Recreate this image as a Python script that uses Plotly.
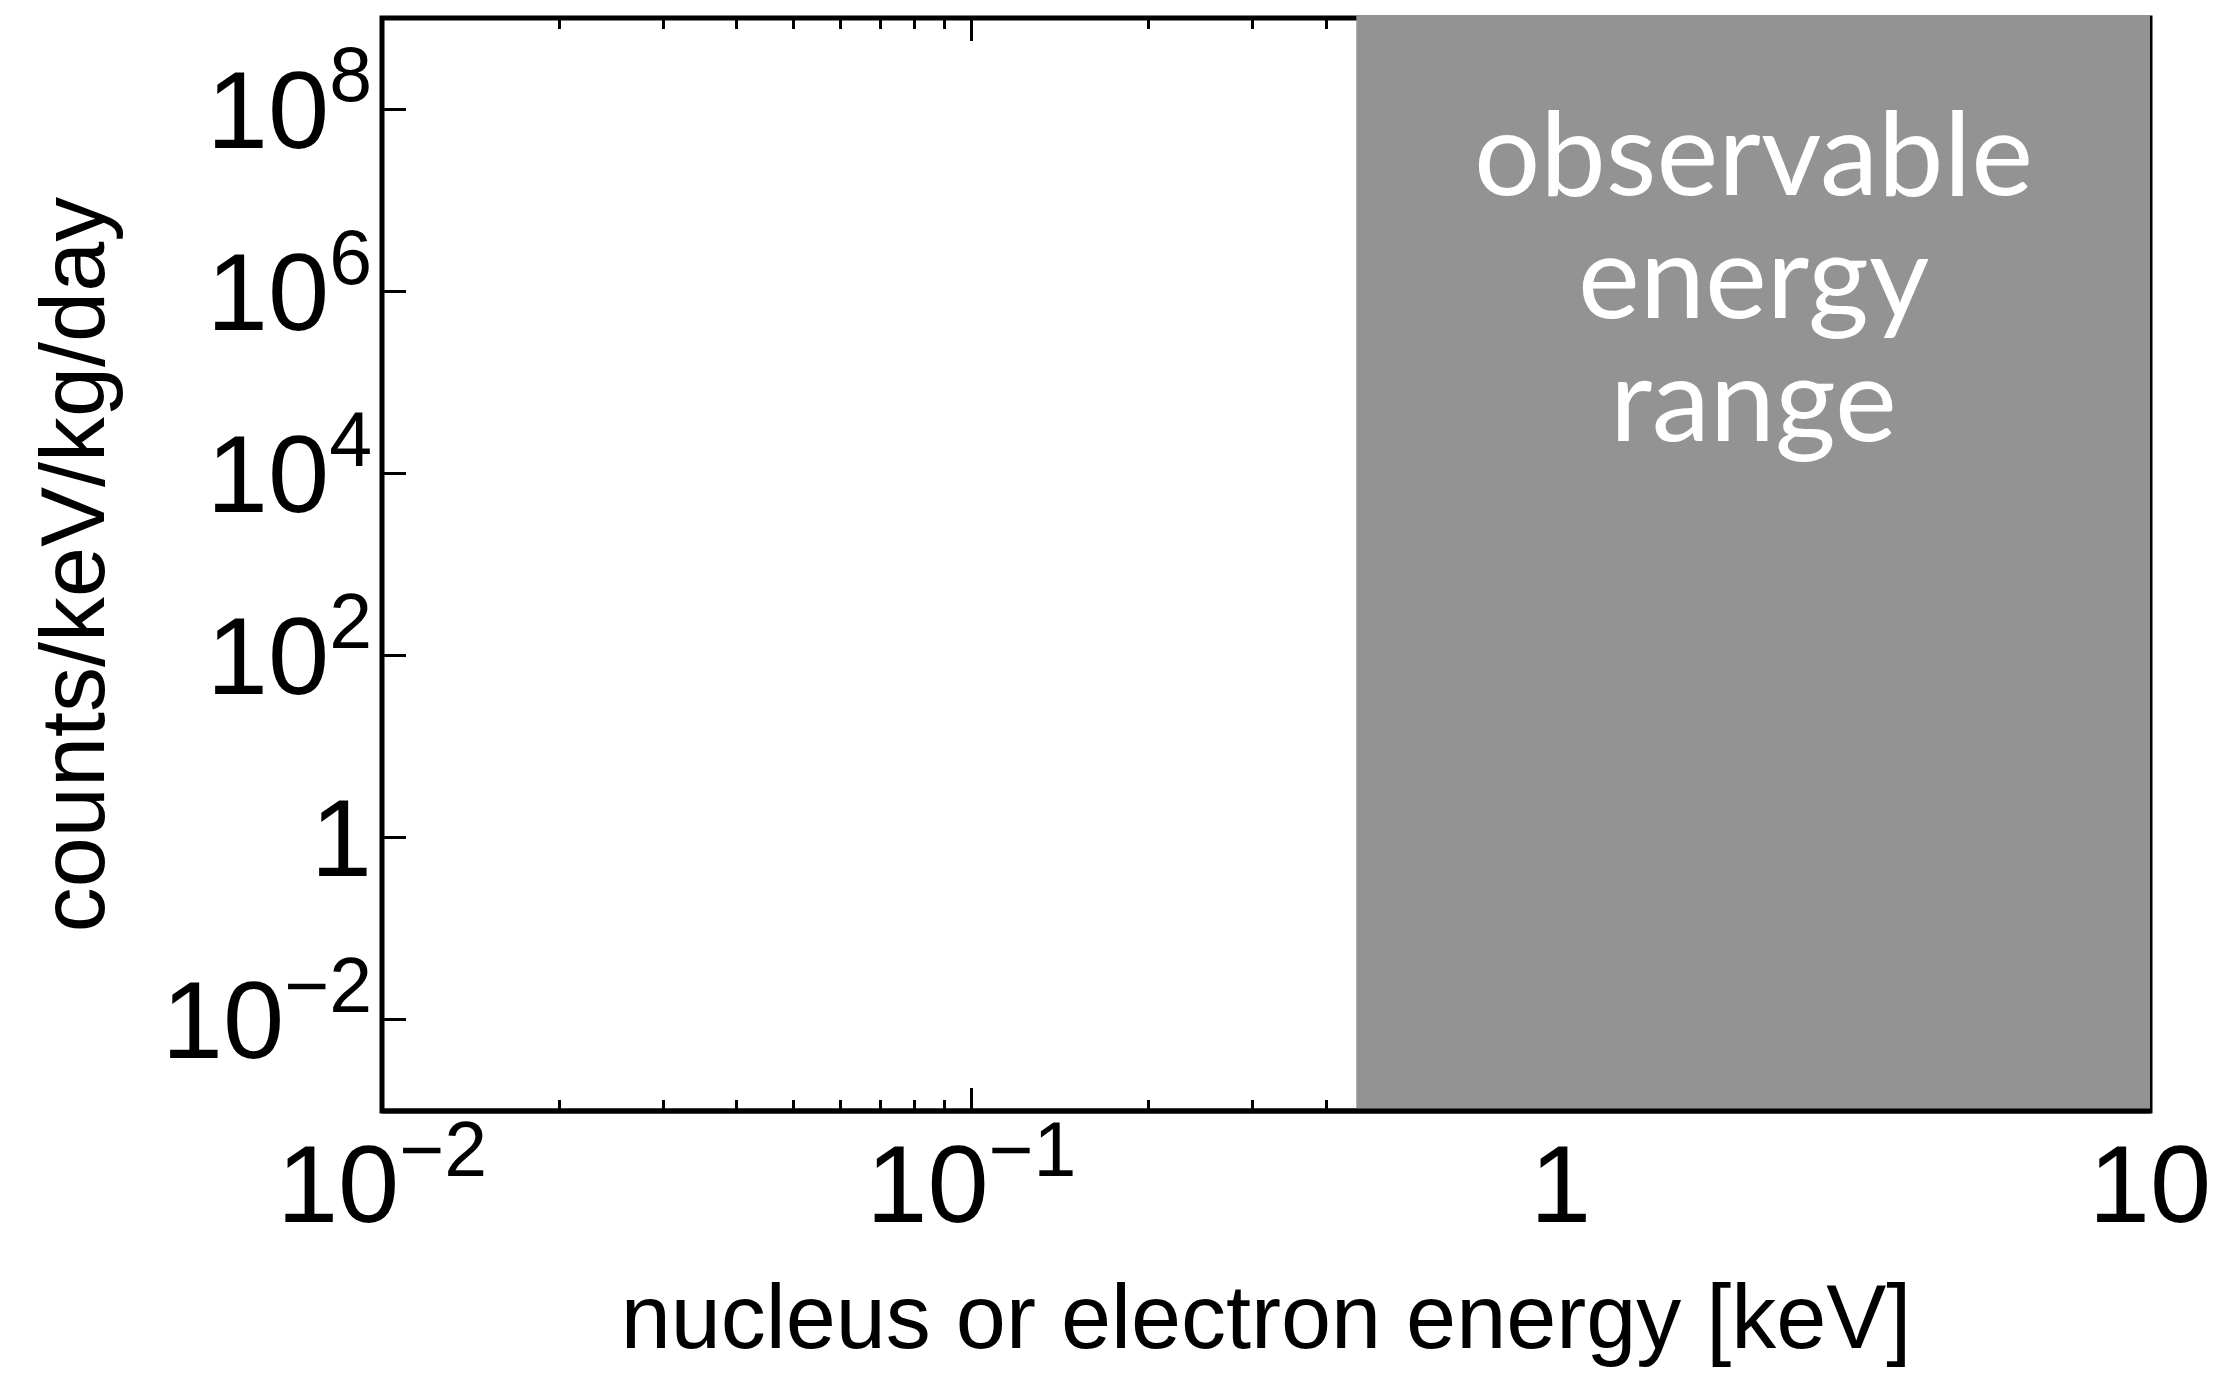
import numpy as np
import plotly.graph_objects as go

# ---- data ----
x_range_kev = [0.01, 10.0]          # energy axis limits [keV]
y_range_counts = [1e-3, 1e9]        # counts/keV/kg/day limits
observable_min_kev = 0.45           # lower edge of observable window [keV]
observable_max_kev = 10.0
label_lines = ["observable", "energy", "range"]
x_title = "nucleus or electron energy [keV]"
y_title = "counts/keV/kg/day"

# page has an 8px body margin; size the figure to fit inside the window
PAGE_W, PAGE_H = 2229, 1381
OFF = 8
W, H = PAGE_W - 2 * OFF, PAGE_H - 2 * OFF
plot_w, plot_h = 1768, 1093
L, T = 382 - OFF, 18 - OFF
R = W - L - plot_w
B = H - T - plot_h

tick_font = dict(family="Liberation Sans, Arial, Helvetica", size=88, color="black")
title_font = dict(family="Liberation Sans, Arial, Helvetica", size=90, color="black")

fig = go.Figure()
# invisible trace so that the axes are created
fig.add_trace(go.Scatter(x=x_range_kev, y=y_range_counts, mode="markers",
                         marker=dict(opacity=0), showlegend=False, hoverinfo="skip"))

fig.update_xaxes(
    type="log",
    range=[np.log10(x_range_kev[0]), np.log10(x_range_kev[1])],
    dtick=1, exponentformat="power",
    showgrid=False, zeroline=False, showline=False,
    ticks="inside", ticklen=23, tickwidth=3, tickcolor="black", mirror="ticks",
    minor=dict(ticks="inside", ticklen=11, tickwidth=3, tickcolor="black",
               dtick="D1", showgrid=False),
    tickfont=tick_font,
    title=dict(text=x_title, font=title_font, standoff=40),
)
fig.update_yaxes(
    type="log",
    range=[np.log10(y_range_counts[0]), np.log10(y_range_counts[1])],
    dtick=2, exponentformat="power",
    showgrid=False, zeroline=False, showline=False,
    ticks="inside", ticklen=24, tickwidth=3, tickcolor="black", mirror="ticks",
    tickfont=tick_font, ticklabelstandoff=9,
    title=dict(text=y_title, font=title_font, standoff=27),
)

shapes = []
# plot frame
shapes.append(dict(type="rect", xref="x domain", yref="y domain", x0=0, x1=1, y0=0, y1=1,
                   line=dict(color="black", width=5), fillcolor="rgba(0,0,0,0)", layer="above"))
# observable energy window (covers the top frame line and mirrored ticks)
shapes.append(dict(type="rect", xref="x", yref="y domain",
                   x0=observable_min_kev, x1=observable_max_kev,
                   y0=0, y1=1 + 3.0 / plot_h,
                   line=dict(width=0), fillcolor="#939393", layer="above"))
# bottom axis line drawn on top of the window
shapes.append(dict(type="line", xref="x domain", yref="y domain", x0=0, x1=1, y0=0, y1=0,
                   line=dict(color="black", width=5), layer="above"))
fig.update_layout(shapes=shapes)

xc = (np.log10(observable_min_kev) + np.log10(observable_max_kev)) / 2
line_y = [0.8795, 0.7665, 0.6545]
for txt, yy in zip(label_lines, line_y):
    fig.add_annotation(x=xc, xref="x", y=yy, yref="y domain", text=txt, showarrow=False,
                       xanchor="center", yanchor="middle",
                       font=dict(family="Lato", size=117, color="white"))

fig.update_layout(
    width=W, height=H,
    margin=dict(l=L, r=R, t=T, b=B, autoexpand=False),
    plot_bgcolor="white", paper_bgcolor="white",
    showlegend=False,
)

fig.write_html("out.html")
